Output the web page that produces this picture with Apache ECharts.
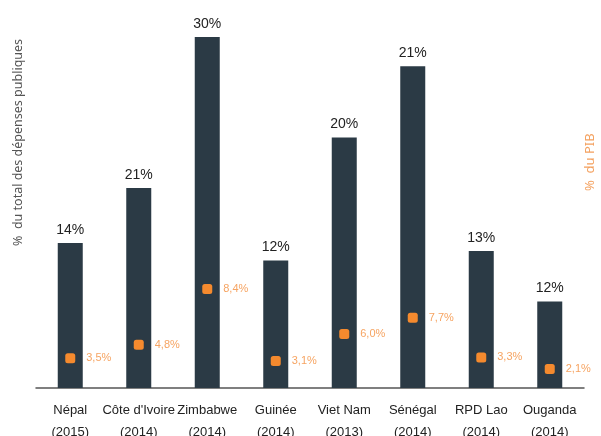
<!DOCTYPE html>
<html>
<head>
<meta charset="UTF-8">
<title>Dépenses</title>
<script src="https://cdn.jsdelivr.net/npm/echarts@6/dist/echarts.min.js"></script>
<style>
  body { margin: 0; background: #fff; }
  #main { width: 601px; height: 436px; }
</style>
</head>
<body>
<div id="main"></div>
<script type="text/javascript">
// pays et année
var pays = ['Népal\n(2015)', "Côte d'Ivoire\n(2014)", 'Zimbabwe\n(2014)', 'Guinée\n(2014)',
            'Viet Nam\n(2013)', 'Sénégal\n(2014)', 'RPD Lao\n(2014)', 'Ouganda\n(2014)'];
// hauteur des barres (% du total des dépenses publiques)
var depenses = [12.4, 17.1, 30, 10.9, 21.4, 27.5, 11.7, 7.4];
var depensesTxt = ['14%', '21%', '30%', '12%', '20%', '21%', '13%', '12%'];
// position des carrés (% du PIB)
var pib = [3.3, 4.8, 11, 3.0, 6.0, 7.8, 3.4, 2.1];
var pibTxt = ['3,5%', '4,8%', '8,4%', '3,1%', '6,0%', '7,7%', '3,3%', '2,1%'];

var police = '"Liberation Sans Narrow", "Liberation Sans", sans-serif';

var myChart = echarts.init(document.getElementById('main'));

var option = {
    animation: false,
    grid: { left: 36, right: 17, top: 37, bottom: 48, outerBoundsMode: 'none', containLabel: false },
    xAxis: {
        type: 'category',
        data: pays,
        axisLine: { lineStyle: { color: '#555', width: 1.5 } },
        axisTick: { show: false },
        axisLabel: {
            margin: 11,
            color: '#222',
            fontFamily: police,
            fontSize: 13,
            lineHeight: 22,
            interval: 0
        }
    },
    yAxis: [
        { type: 'value', min: 0, max: 30, show: false },
        { type: 'value', min: 0, max: 39, show: false }
    ],
    graphic: [
        {
            type: 'text',
            rotation: Math.PI / 2,
            style: {
                text: '%  du total des dépenses publiques',
                fill: '#555',
                font: '12.5px "Noto Sans", sans-serif'
            },
            x: 12, y: 246
        },
        {
            type: 'text',
            rotation: Math.PI / 2,
            style: {
                text: '%  du PIB',
                fill: '#f4a261',
                font: '13px "Noto Sans", sans-serif'
            },
            x: 584, y: 191
        }
    ],
    series: [
        {
            type: 'bar',
            yAxisIndex: 0,
            barWidth: 25,
            data: depenses,
            itemStyle: { color: '#2b3a45' },
            label: {
                show: true,
                position: 'top',
                distance: 6,
                color: '#222',
                fontFamily: police,
                fontSize: 14,
                formatter: function (p) { return depensesTxt[p.dataIndex]; }
            }
        },
        {
            type: 'scatter',
            yAxisIndex: 1,
            data: pib,
            symbol: 'roundRect',
            symbolSize: 10,
            itemStyle: { color: '#f58a2e', opacity: 1 },
            z: 5,
            label: {
                show: true,
                position: 'right',
                distance: 11,
                color: '#f6a462',
                fontFamily: police,
                fontSize: 11,
                formatter: function (p) { return pibTxt[p.dataIndex]; }
            }
        }
    ]
};

myChart.setOption(option);
</script>
</body>
</html>
